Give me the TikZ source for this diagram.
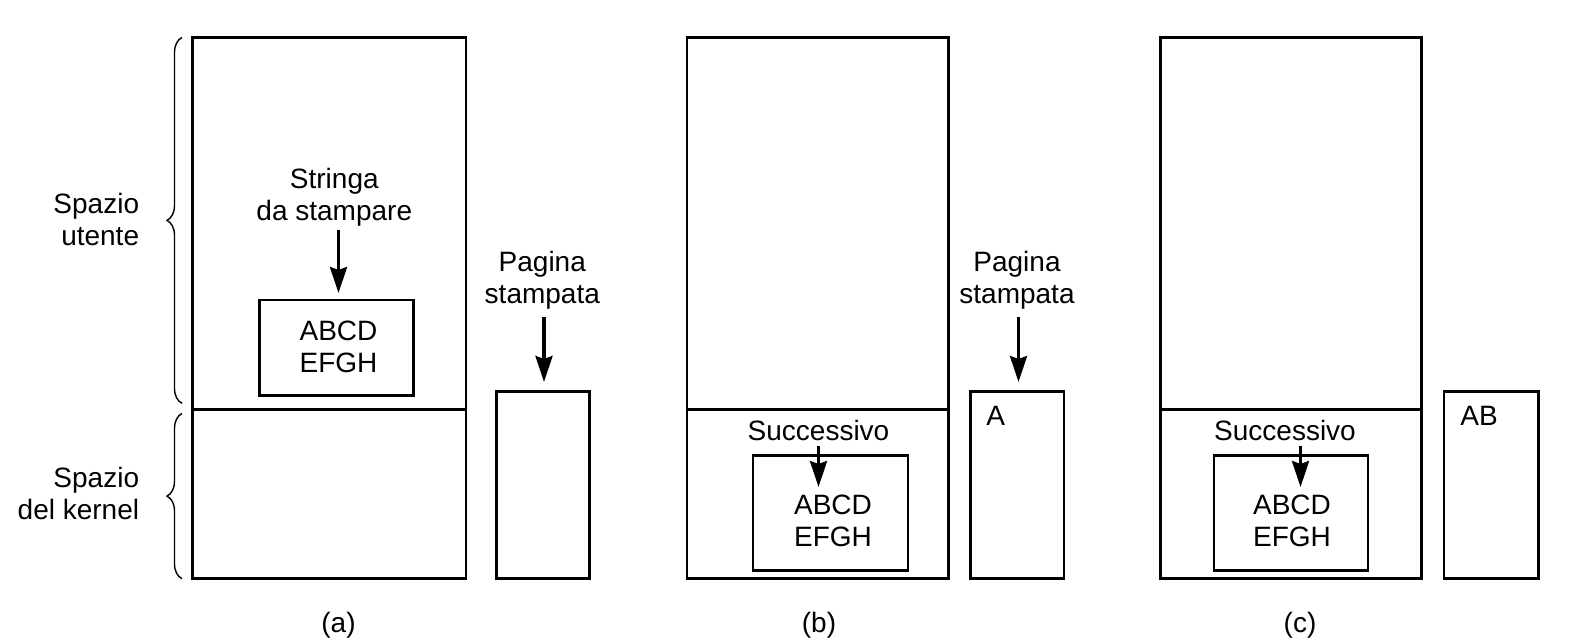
\documentclass[tikz,border=0pt]{standalone}
\usepackage{fontspec}
\setmainfont{Liberation Sans}
\usetikzlibrary{arrows.meta,decorations.pathreplacing}
\begin{document}
\begin{tikzpicture}[x=0.5pt,y=-0.5pt,
  box/.style={line width=1.4pt},
  arr/.style={line width=1.6pt,-{Stealth[length=13pt,width=8.5pt,inset=1.5pt]}},
  lbl/.style={inner sep=0pt,align=center,font=\fontsize{14}{15.9}\selectfont},
  rlbl/.style={inner sep=0pt,align=right,anchor=east,font=\fontsize{14}{15.9}\selectfont},
  brc/.style={decorate,decoration={brace,amplitude=7.5pt},line width=0.7pt}]
\useasboundingbox (0,0) rectangle (1589,640);

% ---------- panel (a) ----------
\draw[box] (192.5,37.5) rectangle (466,578.7);
\draw[box] (192.5,409.4) -- (466,409.4);
\draw[box] (259.4,300) rectangle (413.5,395.2);
\node[lbl] (bufA) at (338.5,347) {ABCD\\EFGH};
\node[lbl] (strA) at (334.3,197.5) {Stringa\\da stampare};
\coordinate (strAs) at (338.5,230);
\coordinate (strAt) at (338.5,293);
\draw[arr] (strAs) -- (strAt);

\draw[box] (496.6,391.2) rectangle (589.8,578.7);
\node[lbl] (pagA) at (542.3,280) {Pagina\\stampata};
\coordinate (pagAs) at (544,317);
\coordinate (pagAt) at (544,382);
\draw[arr] (pagAs) -- (pagAt);

\draw[brc] (182,403.3) -- (182,37.5);
\draw[brc] (182,578.7) -- (182,413.5);
\node[rlbl] (usr) at (139.5,219.5) {Spazio\\utente};
\node[rlbl] (krn) at (139.5,493.3) {Spazio\\del kernel};
\node[lbl] (capA) at (338.5,625) {(a)};

% ---------- panel (b) ----------
\draw[box] (687,37.5) rectangle (948.5,578.7);
\draw[box] (687,409.4) -- (948.5,409.4);
\draw[box] (753,455.5) rectangle (908,570.5);
\node[lbl] (sucB) at (818.5,430) {Successivo};
\node[lbl] (bufB) at (833,520.8) {ABCD\\EFGH};
\coordinate (sucBs) at (818.5,446);
\coordinate (sucBt) at (818.5,487);
\draw[arr] (sucBs) -- (sucBt);

\draw[box] (970.8,391.2) rectangle (1064,578.7);
\node[lbl,anchor=west] (pgB) at (986,415.5) {A};
\node[lbl] (pagB) at (1017,280) {Pagina\\stampata};
\coordinate (pagBs) at (1018.5,317);
\coordinate (pagBt) at (1018.5,382);
\draw[arr] (pagBs) -- (pagBt);
\node[lbl] (capB) at (819,625) {(b)};

% ---------- panel (c) ----------
\draw[box] (1160.3,37.5) rectangle (1421.8,578.7);
\draw[box] (1160.3,409.4) -- (1421.8,409.4);
\draw[box] (1214,455.5) rectangle (1368,570.5);
\node[lbl] (sucC) at (1285,430) {Successivo};
\node[lbl] (bufC) at (1292,520.8) {ABCD\\EFGH};
\coordinate (sucCs) at (1300.5,446);
\coordinate (sucCt) at (1300.5,487);
\draw[arr] (sucCs) -- (sucCt);

\draw[box] (1444,391.2) rectangle (1538.3,578.7);
\node[lbl,anchor=west] (pgC) at (1460,415.5) {AB};
\node[lbl] (capC) at (1300,625) {(c)};
\end{tikzpicture}
\end{document}
